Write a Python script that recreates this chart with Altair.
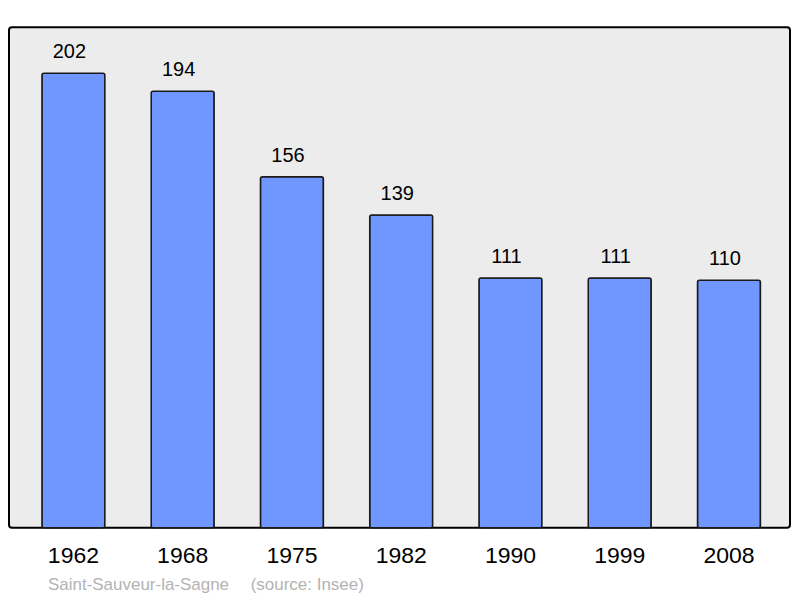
import altair as alt
import pandas as pd

years = ["1962", "1968", "1975", "1982", "1990", "1999", "2008"]
population = [202, 194, 156, 139, 111, 111, 110]
source_parts = ["Saint-Sauveur-la-Sagne", "(source: Insee)"]

df = pd.DataFrame({"year": years, "pop": population})

FONT = "Liberation Sans"

x = alt.X(
    "year:N",
    sort=years,
    title=None,
    scale=alt.Scale(paddingInner=0.424, paddingOuter=0.286, align=0.527),
    axis=alt.Axis(
        labelFontSize=23,
        labelFont=FONT,
        labelColor="#000000",
        labelAngle=0,
        labelPadding=17,
        domain=False,
        ticks=False,
        grid=False,
    ),
)
y = alt.Y("pop:Q", title=None, scale=alt.Scale(domain=[0, 222.4], nice=False), axis=None)

bars = alt.Chart(df).mark_bar(
    color="#7097ff",
    stroke="#1a1a1a",
    strokeWidth=1.5,
    cornerRadius=2,
).encode(x=x, y=y)

labels = alt.Chart(df).mark_text(
    font=FONT, fontSize=20, color="#000000", dx=-4, dy=-15, baseline="alphabetic"
).encode(x=x, y=y, text="pop:Q")

src_df = pd.DataFrame({"t": source_parts, "px": [39, 242]})
src = alt.Chart(src_df).mark_text(
    font=FONT, fontSize=17, color="#b3b3b3", align="left", baseline="alphabetic"
).encode(x=alt.X("px:Q", scale=None), y=alt.value(563), text="t:N")

chart = (
    alt.layer(bars, labels, src)
    .properties(
        width=782,
        height=501,
        autosize=alt.AutoSizeParams(type="none"),
        padding={"left": 1, "top": 19, "right": 2, "bottom": 68},
    )
    .configure_view(fill="#ececec", stroke="#000000", strokeWidth=2, cornerRadius=3)
)

chart.save("out.html", embed_options={"renderer": "svg", "actions": False})
